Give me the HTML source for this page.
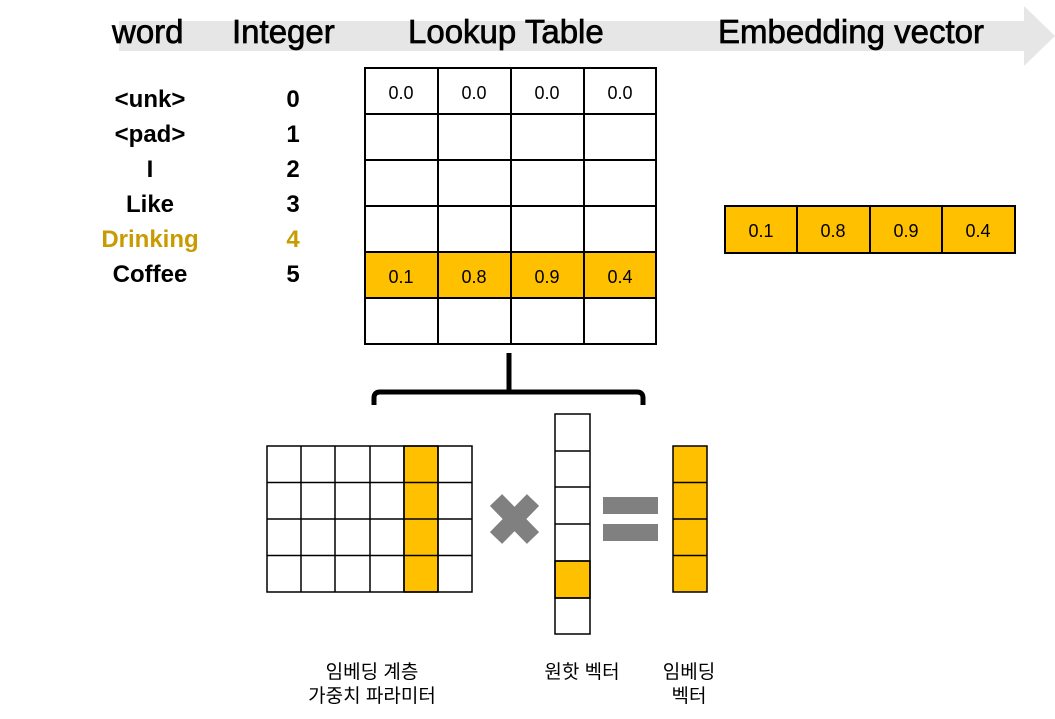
<!DOCTYPE html>
<html><head><meta charset="utf-8"><style>
body{margin:0;width:1055px;height:719px;background:#fff;position:relative;overflow:hidden;font-family:"Liberation Sans","Noto Sans CJK KR",sans-serif}
.a{position:absolute}
.h{position:absolute;top:12px;font-size:33px;line-height:40px;color:#000;white-space:nowrap;-webkit-text-stroke:0.7px #000}
.w{position:absolute;width:120px;text-align:center;font-size:24px;font-weight:bold;line-height:30px}
.n{position:absolute;width:40px;text-align:center;font-size:24px;font-weight:bold;line-height:30px}
.k{position:absolute;font-size:19px;line-height:24px;text-align:center;white-space:nowrap}
</style></head><body>
<div class="a" style="left:119px;top:21px;width:906px;height:30px;background:#e6e6e6"></div>
<div class="a" style="left:1024px;top:6px;width:0;height:0;border-top:30px solid transparent;border-bottom:30px solid transparent;border-left:31px solid #e6e6e6"></div>
<div class="h" style="left:112px;width:82px;">word</div>
<div class="h" style="left:232px;">Integer</div>
<div class="h" style="left:408px;">Lookup Table</div>
<div class="h" style="left:718px;">Embedding vector</div>

<div class="w" style="left:90px;top:85px">&lt;unk&gt;</div>
<div class="w" style="left:90px;top:120px">&lt;pad&gt;</div>
<div class="w" style="left:90px;top:155px">I</div>
<div class="w" style="left:90px;top:190px">Like</div>
<div class="w" style="left:90px;top:225px;color:#C89B00">Drinking</div>
<div class="w" style="left:90px;top:260px">Coffee</div>
<div class="n" style="left:273px;top:85px">0</div>
<div class="n" style="left:273px;top:120px">1</div>
<div class="n" style="left:273px;top:155px">2</div>
<div class="n" style="left:273px;top:190px">3</div>
<div class="n" style="left:273px;top:225px;color:#C89B00">4</div>
<div class="n" style="left:273px;top:260px">5</div>

<svg class="a" style="left:0;top:0" width="1055" height="719">
<g stroke="#000" stroke-width="2" fill="none">
<rect x="365" y="68" width="291" height="276"/>
<rect x="365" y="252" width="291" height="46" fill="#FFC000"/>
<path d="M438 68V344M511 68V344M584 68V344M365 114H656M365 160H656M365 206H656M365 252H656M365 298H656"/>
<rect x="725" y="206" width="290" height="47" fill="#FFC000"/>
<path d="M797 206V253M870 206V253M942 206V253"/>
</g>
<g font-family="Liberation Sans, sans-serif" font-size="18" text-anchor="middle">
<text x="401" y="99">0.0</text><text x="474" y="99">0.0</text><text x="547" y="99">0.0</text><text x="620" y="99">0.0</text>
<text x="401" y="283">0.1</text><text x="474" y="283">0.8</text><text x="547" y="283">0.9</text><text x="620" y="283">0.4</text>
<text x="761" y="237">0.1</text><text x="833" y="237">0.8</text><text x="906" y="237">0.9</text><text x="978" y="237">0.4</text>
</g>
<path d="M509 353V390M374 405V398Q374 392 380 392H637Q643 392 643 398V405" stroke="#000" stroke-width="5" fill="none"/>
<g stroke="#000" stroke-width="1.5" fill="none">
<rect x="404" y="446" width="34" height="146" fill="#FFC000"/>
<rect x="267" y="446" width="205" height="146"/>
<path d="M301 446V592M335 446V592M370 446V592M404 446V592M438 446V592M267 482.5H472M267 519H472M267 555.5H472"/>
<rect x="555" y="561" width="35" height="37" fill="#FFC000"/>
<rect x="555" y="414" width="35" height="220"/>
<path d="M555 451H590M555 487H590M555 524H590M555 561H590M555 598H590"/>
<rect x="673" y="446" width="34" height="146" fill="#FFC000"/>
<path d="M673 482.5H707M673 519H707M673 555.5H707"/>
</g>
<path d="M496 500L533 538M533 500L496 538" stroke="#808080" stroke-width="17"/>
<rect x="603" y="497" width="55" height="17" fill="#808080"/>
<rect x="603" y="524" width="55" height="17" fill="#808080"/>
</svg>
<div class="k" style="left:272px;width:200px;top:661px">임베딩 계층<br>가중치 파라미터</div>
<div class="k" style="left:522px;width:120px;top:661px">원핫 벡터</div>
<div class="k" style="left:649px;width:80px;top:661px">임베딩<br>벡터</div>
</body></html>
